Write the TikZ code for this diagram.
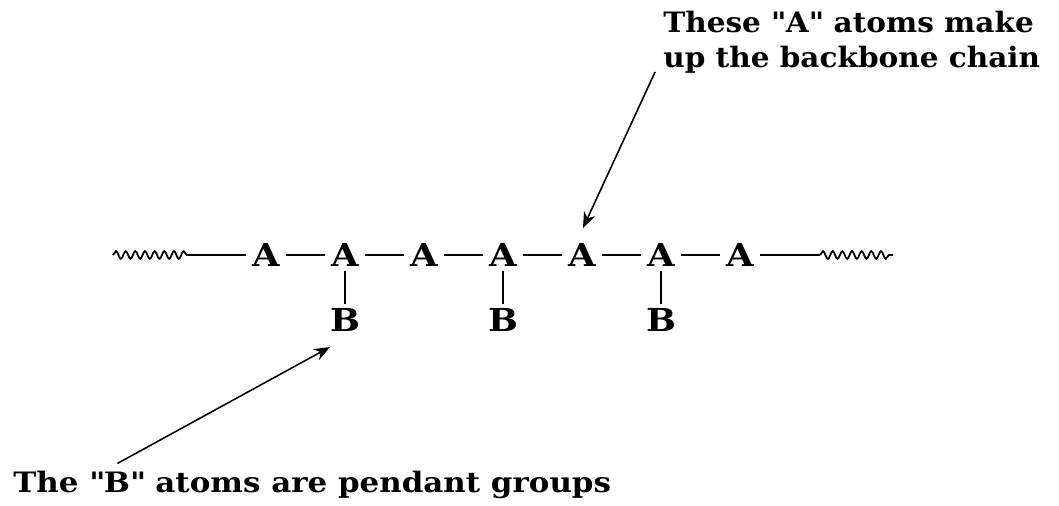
\documentclass[tikz,border=0pt]{standalone}
\usepackage{fontspec}
\setmainfont{DejaVu Serif}
\newfontfamily\wideserif[FakeStretch=1.12]{DejaVu Serif}
\newfontfamily\topserif[FakeStretch=1.05]{DejaVu Serif}
\newfontfamily\lowserif[FakeStretch=1.1]{DejaVu Serif}
\usetikzlibrary{arrows.meta,positioning,calc,decorations.pathmorphing}
\tikzset{
  atom/.style={font=\wideserif\fontsize{18}{18}\selectfont\bfseries,inner xsep=3.5pt,inner ysep=2.5pt},
  bond/.style={line width=1pt},
  tail/.style={line width=1pt,decorate,decoration={snake,amplitude=2.2pt,segment length=5.5pt}},
  pointer/.style={-{Stealth[length=9pt,width=7pt]},line width=0.9pt},
  note/.style={align=left,inner sep=0pt,font=\fontsize{16}{19.8}\selectfont\bfseries}
}
\begin{document}
\begin{tikzpicture}[x=0.02cm,y=-0.02cm]
  \useasboundingbox (0,0) rectangle (1059,506);
  % backbone
  \foreach \i in {1,...,7}
    \node[atom] (a\i) at ({187+79*\i},255) {A};
  \foreach \i/\j in {1/2,2/3,3/4,4/5,5/6,6/7}
    \draw[bond] (a\i) -- (a\j);
  % pendant groups
  \foreach \i in {2,4,6}{
    \node[atom] (b\i) at ($(a\i)+(0,65)$) {B};
    \draw[bond] (a\i) -- (b\i);
  }
  % chain continues
  \coordinate (wl0) at (113,255);
  \coordinate (wl1) at (190,255);
  \coordinate (wr0) at (820,255);
  \coordinate (wr1) at (893,255);
  \draw[tail] (wl0) -- (wl1);
  \draw[bond] (wl1) -- (a1);
  \draw[bond] (a7) -- (wr0);
  \draw[tail] (wr0) -- (wr1);
  % labels
  \node[note,anchor=north west] (backbone) at (663,11)
    {\topserif These \textquotedbl A\textquotedbl\ atoms make\\\topserif up the backbone chain};
  \node[note,anchor=base west] (pendant) at (13,493)
    {\lowserif The \textquotedbl B\textquotedbl\ atoms are pendant groups};
  \coordinate (tipA) at (583,228);
  \coordinate (tipB) at (330,347);
  \draw[pointer] ([shift={(-4.5pt,1pt)}]backbone.south west) -- (tipA);
  \draw[pointer] ([shift={(59.5pt,4.5pt)}]pendant.north west) -- (tipB);
\end{tikzpicture}
\end{document}
